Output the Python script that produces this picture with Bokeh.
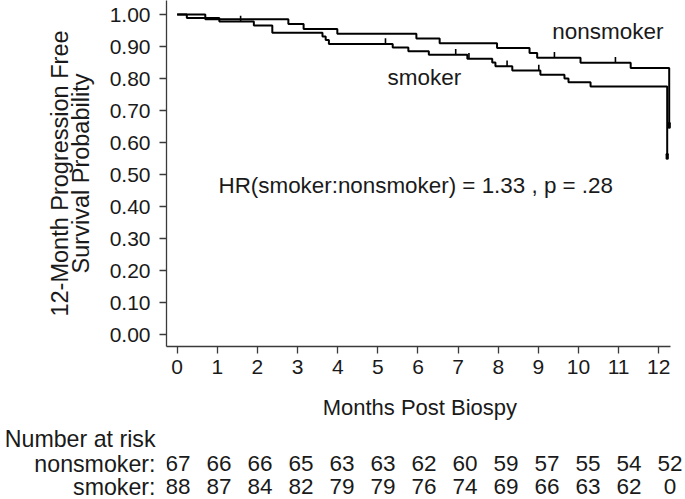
from bokeh.plotting import figure
from bokeh.models import Range1d, FixedTicker, PrintfTickFormatter
from bokeh.layouts import column
from bokeh.embed import file_html
from bokeh.resources import INLINE
from bokeh.core.properties import value

# ---------------- data ----------------
x_tick_values = [0, 1, 2, 3, 4, 5, 6, 7, 8, 9, 10, 11, 12]
y_tick_values = [0.0, 0.1, 0.2, 0.3, 0.4, 0.5, 0.6, 0.7, 0.8, 0.9, 1.0]

nonsmoker_times = [0.70, 2.77, 3.15, 3.99, 5.96, 6.54, 7.97, 8.78, 8.97, 10.05, 11.30, 12.26]
nonsmoker_surv = [0.985, 0.970, 0.955, 0.940, 0.925, 0.910, 0.895, 0.880, 0.865, 0.849, 0.833, 0.648]
nonsmoker_censor = [9.40, 10.92]

smoker_times = [0.24, 1.05, 1.91, 2.37, 3.62, 3.70, 3.78, 5.37, 5.76, 6.27, 7.23, 7.85, 7.93,
                8.35, 9.05, 9.65, 9.75, 10.30, 12.21]
smoker_surv = [0.989, 0.978, 0.966, 0.943, 0.931, 0.920, 0.908, 0.897, 0.885, 0.874, 0.862, 0.850,
               0.838, 0.825, 0.812, 0.800, 0.788, 0.775, 0.551]
smoker_censor = [1.58, 5.19, 6.94, 7.27, 8.22, 9.01]

risk_title = "Number at risk"
risk_groups = ["nonsmoker:", "smoker:"]
risk_nonsmoker = [67, 66, 66, 65, 63, 63, 62, 60, 59, 57, 55, 54, 52]
risk_smoker = [88, 87, 84, 82, 79, 79, 76, 74, 69, 66, 63, 62, 0]

hr_text = "HR(smoker:nonsmoker) = 1.33 , p = .28"

# ---------------- styling ----------------
FONT = "Liberation Sans"
TXT = "#1a1a1a"
AX = "#3a3a3a"
X_START, X_END = -0.2666, 12.666


def surv_at(t, times, surv):
    s = 1.0
    for ti, si in zip(times, surv):
        if ti <= t:
            s = si
    return s


p = figure(width=685, height=425, output_backend="svg", toolbar_location=None,
           x_range=Range1d(X_START, X_END), y_range=Range1d(-0.0375, 1.04375),
           min_border_left=166, min_border_right=0, min_border_top=0, min_border_bottom=79)
p.outline_line_color = None
p.grid.visible = False
p.background_fill_color = "white"
p.border_fill_color = "white"

# curves
for times, surv, censor in [(nonsmoker_times, nonsmoker_surv, nonsmoker_censor),
                            (smoker_times, smoker_surv, smoker_censor)]:
    xs = [0.0] + times
    ys = [1.0] + surv
    p.step(xs, ys, mode="after", line_color="black", line_width=2)
    cy = [surv_at(c, times, surv) for c in censor]
    p.segment(x0=censor, y0=cy, x1=censor, y1=[v + 0.018 for v in cy],
              line_color="black", line_width=1.6)
    # end mark
    p.segment(x0=[times[-1]], y0=[surv[-1]], x1=[times[-1]], y1=[surv[-1] + 0.012],
              line_color="black", line_width=3.2, line_cap="round")

p.text(x=[9.345], y=[0.948], text=["nonsmoker"], text_font=value(FONT),
       text_font_size="22.5px", text_color=TXT, text_align="left", text_baseline="alphabetic")
p.text(x=[5.24], y=[0.803], text=["smoker"], text_font=value(FONT),
       text_font_size="22.5px", text_color=TXT, text_align="left", text_baseline="alphabetic")
p.text(x=[1.029], y=[0.4656], text=[hr_text], text_font=value(FONT),
       text_font_size="22.4px", text_color=TXT, text_align="left", text_baseline="alphabetic")

# axes
p.xaxis.ticker = FixedTicker(ticks=x_tick_values)
p.xaxis.bounds = (X_START, 12.29)
p.yaxis.ticker = FixedTicker(ticks=y_tick_values)
p.yaxis.formatter = PrintfTickFormatter(format="%.2f")
p.xaxis.axis_label = "Months Post Biospy\u00a0\u00a0"
p.yaxis.axis_label = "12-Month Progression Free\nSurvival Probability"
for ax in (p.xaxis, p.yaxis):
    ax.axis_line_color = AX
    ax.axis_line_width = 1.3
    ax.major_tick_line_color = AX
    ax.major_tick_line_width = 1.3
    ax.major_tick_out = 7
    ax.major_tick_in = 0
    ax.minor_tick_line_color = None
    ax.major_label_text_font = FONT
    ax.major_label_text_font_size = "21px"
    ax.major_label_text_color = TXT
    ax.axis_label_text_font = FONT
    ax.axis_label_text_font_size = "22px"
    ax.axis_label_text_font_style = "normal"
    ax.axis_label_text_color = TXT
p.yaxis.axis_label_text_font_size = "23.5px"
p.xaxis.major_label_standoff = 6
p.yaxis.major_label_standoff = 9
p.xaxis.axis_label_standoff = 18
p.yaxis.axis_label_standoff = 13
p.yaxis.axis_label_text_line_height = 0.78

# ---------------- risk table ----------------
ROW_TITLE, ROW_NON, ROW_SMK = 61, 36, 13
t = figure(width=685, height=74, output_backend="svg", toolbar_location=None,
           x_range=p.x_range, y_range=Range1d(0, 74), x_axis_location=None,
           min_border_left=166, min_border_right=0, min_border_top=0, min_border_bottom=0)
t.outline_line_color = None
t.grid.visible = False
t.background_fill_color = "white"
t.border_fill_color = "white"
t.yaxis.ticker = FixedTicker(ticks=[ROW_TITLE, ROW_NON, ROW_SMK])
t.yaxis.major_label_overrides = {ROW_TITLE: risk_title, ROW_NON: risk_groups[0], ROW_SMK: risk_groups[1]}
t.yaxis.axis_line_color = None
t.yaxis.major_tick_line_color = None
t.yaxis.minor_tick_line_color = None
t.yaxis.major_tick_out = 0
t.yaxis.major_tick_in = 0
t.yaxis.major_label_standoff = 11
t.yaxis.major_label_text_font = FONT
t.yaxis.major_label_text_font_size = "23.2px"
t.yaxis.major_label_text_color = TXT

num_x = [0.02 + 1.0217 * i for i in range(len(risk_nonsmoker))]
t.text(x=num_x, y=[ROW_NON] * len(num_x), text=[str(v) for v in risk_nonsmoker], text_font=value(FONT),
       text_font_size="22.5px", text_color=TXT, text_align="center", text_baseline="middle")
t.text(x=num_x, y=[ROW_SMK] * len(num_x), text=[str(v) for v in risk_smoker], text_font=value(FONT),
       text_font_size="22.5px", text_color=TXT, text_align="center", text_baseline="middle")

layout = column(p, t, spacing=0)
try:
    from bokeh.models import GlobalInlineStyleSheet
    layout.stylesheets = [GlobalInlineStyleSheet(css="html, body { margin: 0 !important; padding: 0; }")]
except Exception:
    layout.styles = {"margin-left": "-8px", "margin-top": "-8px"}

open("out.html", "w").write(file_html(layout, INLINE))
